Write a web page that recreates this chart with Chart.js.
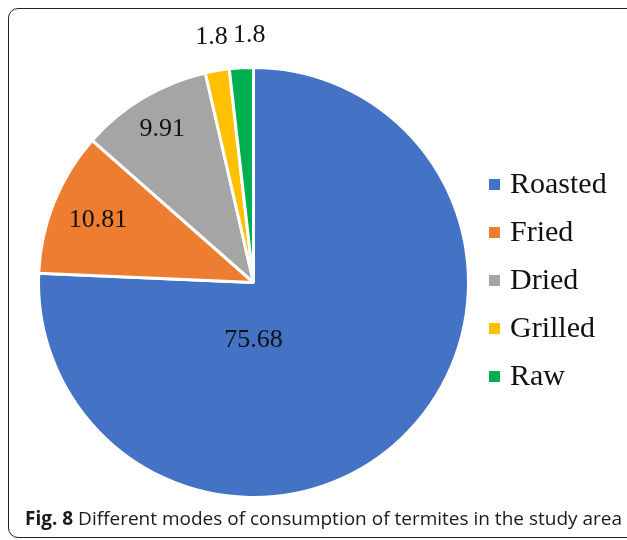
<!DOCTYPE html>
<html>
<head>
<meta charset="utf-8">
<script src="https://cdn.jsdelivr.net/npm/chart.js@4"></script>
<style>
  html, body { margin: 0; padding: 0; background: #fff; }
  body { width: 627px; height: 540px; position: relative; overflow: hidden; }
  #frame {
    position: absolute; left: 8px; top: 8px; width: 640px; height: 530px;
    border: 1.5px solid #222; border-radius: 10px; box-sizing: border-box;
  }
  #wrap { position: absolute; left: 0; top: 0; width: 627px; height: 510px; }
  #caption {
    position: absolute; left: 25px; top: 505px; white-space: nowrap;
    font-family: "Open Sans", sans-serif; font-size: 19px; color: #1a1a1a;
  }
  #caption b { font-weight: 700; }
</style>
</head>
<body>
<div id="frame"></div>
<div id="wrap"><canvas id="miGrafico"></canvas></div>
<div id="caption"><b>Fig. 8</b> Different modes of consumption of termites in the study area</div>
<script>
// Data
const labels = ['Roasted', 'Fried', 'Dried', 'Grilled', 'Raw'];
const values = [75.68, 10.81, 9.91, 1.8, 1.8];
const colors = ['#4472C4', '#ED7D31', '#A5A5A5', '#FFC000', '#00B050'];

// label placement: fraction of radius along slice middle (angle override in degrees, clockwise from top)
const labelRadius = [0.27, 0.78, 0.83, 1.16, 1.15];
const labelAngle = [180, null, null, null, 359];

const serif = '"Liberation Serif", "Times New Roman", serif';

const sliceLabels = {
  id: 'sliceLabels',
  afterDatasetsDraw(chart) {
    const ctx = chart.ctx;
    const meta = chart.getDatasetMeta(0);
    ctx.save();
    ctx.font = '26px ' + serif;
    ctx.fillStyle = '#111';
    ctx.textAlign = 'center';
    ctx.textBaseline = 'middle';
    meta.data.forEach(function (arc, i) {
      const p = arc.getProps(['x', 'y', 'startAngle', 'endAngle', 'outerRadius']);
      let a = (p.startAngle + p.endAngle) / 2;
      if (labelAngle[i] !== null) a = labelAngle[i] * Math.PI / 180 - Math.PI / 2;
      const r = p.outerRadius * labelRadius[i];
      ctx.fillText(String(values[i]), p.x + Math.cos(a) * r, p.y + Math.sin(a) * r);
    });
    ctx.restore();
  }
};

const sideLegend = {
  id: 'sideLegend',
  afterDraw(chart) {
    const ctx = chart.ctx;
    const x0 = 489;
    const y0 = 184;
    const step = 48;
    ctx.save();
    ctx.font = '30px ' + serif;
    ctx.textBaseline = 'middle';
    ctx.textAlign = 'left';
    chart.data.labels.forEach(function (lab, i) {
      const y = y0 + i * step;
      ctx.fillStyle = chart.data.datasets[0].backgroundColor[i];
      ctx.fillRect(x0, y - 5, 11, 11);
      ctx.fillStyle = '#111';
      ctx.fillText(lab, x0 + 21, y + 1);
    });
    ctx.restore();
  }
};

const chart = new Chart(document.getElementById('miGrafico'), {
  type: 'pie',
  data: {
    labels: labels,
    datasets: [{
      data: values,
      backgroundColor: colors,
      borderColor: '#ffffff',
      borderWidth: 3
    }]
  },
  options: {
    responsive: true,
    maintainAspectRatio: false,
    animation: false,
    layout: { padding: { left: 37, right: 157, top: 66, bottom: 11 } },
    plugins: {
      legend: { display: false },
      tooltip: { enabled: false },
      title: { display: false }
    }
  },
  plugins: [sliceLabels, sideLegend]
});
</script>
</body>
</html>
